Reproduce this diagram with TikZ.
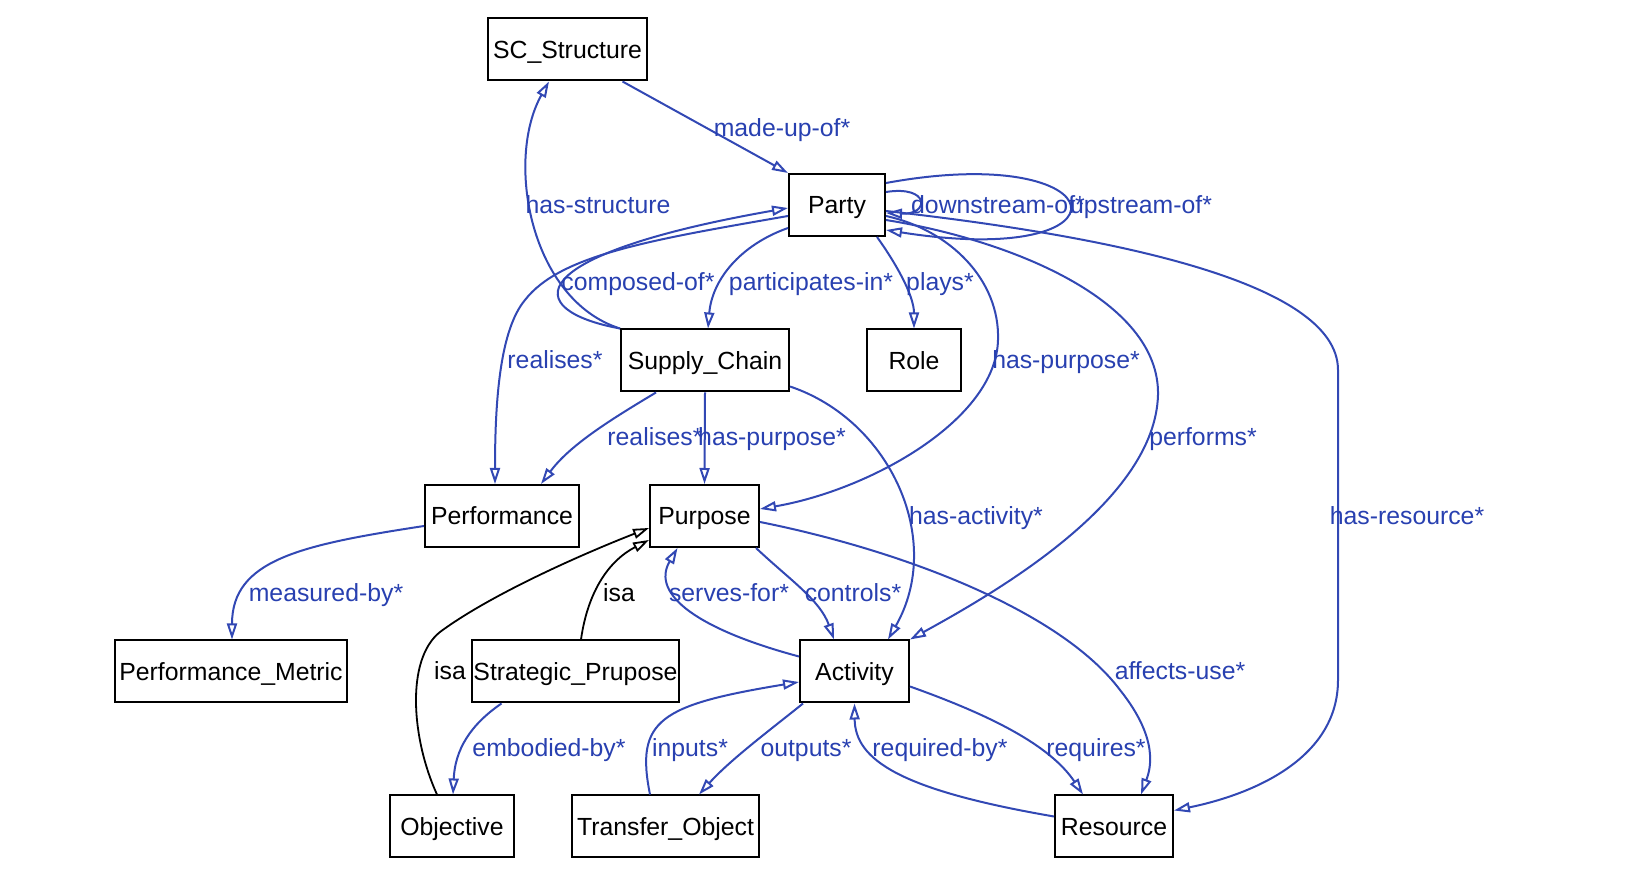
\documentclass[tikz,border=0pt]{standalone}
\usepackage{fontspec}
\setmainfont{Liberation Sans}
\usepackage{tikz}
\usetikzlibrary{positioning,calc}
\usetikzlibrary{arrows.meta}
\definecolor{RelBlue}{RGB}{50,72,180}
\definecolor{LabBlue}{RGB}{40,64,176}
\tikzset{
  cls/.style={rectangle,draw=black,fill=white,line width=1pt,inner sep=0pt,
    minimum height=31pt,text height=9pt,text depth=0pt,font=\fontsize{12.4}{15}\selectfont},
  rel/.style={draw=RelBlue,line width=1pt,-{Triangle[open,length=8pt,width=5pt]}},
  isarel/.style={draw=black,line width=0.9pt,-{Triangle[open,length=8pt,width=5pt]}},
}
\tikzset{rlab/.style={text=LabBlue,inner sep=0pt,text height=9pt,text depth=0pt,font=\fontsize{12.4}{15}\selectfont}, isalab/.style={rlab,text=black}}

\begin{document}
\begin{tikzpicture}[x=0.5pt,y=-0.5pt]
\useasboundingbox (0,0) rectangle (1628,886);
\node[cls,minimum width=79.5pt] (scs) at (567.5,49.5) {SC\_Structure};
\node[cls,minimum width=48pt] (party) at (837,205) {Party};
\node[cls,minimum width=84pt] (supply) at (705,360.5) {Supply\_Chain};
\node[cls,minimum width=47pt] (role) at (914,360.5) {Role};
\node[cls,minimum width=77pt] (perf) at (502,516) {Performance};
\node[cls,minimum width=54.5pt] (purpose) at (704.5,516) {Purpose};
\node[cls,minimum width=116pt] (metric) at (231,671.5) {Performance\_Metric};
\node[cls,minimum width=103.5pt] (strat) at (575.5,671.5) {Strategic\_Prupose};
\node[cls,minimum width=54.5pt] (activity) at (854.5,671.5) {Activity};
\node[cls,minimum width=62pt] (objective) at (452,826.5) {Objective};
\node[cls,minimum width=93.5pt] (transfer) at (665.5,826.5) {Transfer\_Object};
\node[cls,minimum width=59pt] (resource) at (1114,826.5) {Resource};

\draw[rel] ($(scs.south)+(55,0)$) -- (party.north west);
\draw[rel] (supply.north west) .. controls (530,300) and (505,160) .. ($(scs.south)+(-18.5,0)$);
\draw[rel] (supply.north west) .. controls (520,310) and (520,255) .. ($(party.west)+(0,3)$);
\draw[rel] ($(party.west)+(0,11)$) .. controls (650,240) and (560,255) .. (525,300) .. controls (500,330) and (495,400) .. ($(perf.north)+(-7,0)$);
\draw[rel] ($(party.west)+(0,23)$) .. controls (740,245) and (712,280) .. ($(supply.north)+(3,0)$);
\draw[rel] ($(party.south)+(40,0)$) .. controls (895,262) and (914,295) .. (role.north);
\draw[rel] ($(party.east)+(0,11)$) .. controls (950,230) and (1000,280) .. (998,340) .. controls (996,420) and (870,490) .. ($(purpose.east)+(0,-7)$);
\draw[rel] ($(party.east)+(0,15)$) .. controls (1010,240) and (1160,300) .. (1158,395) .. controls (1155,500) and (1000,590) .. (activity.north east);
\draw[rel] ($(party.east)+(0,6)$) .. controls (1100,235) and (1338,280) .. (1338,370) -- (1338,680) .. controls (1338,760) and (1250,795) .. ($(resource.east)+(0,-16)$);
\draw[rel] ($(party.east)+(0,-13)$) .. controls (930,185) and (930,215) .. ($(party.east)+(0,8)$);
\draw[rel] ($(party.east)+(0,-22)$) .. controls (1120,140) and (1140,270) .. ($(party.east)+(0,25)$);
\draw[rel] ($(supply.south)+(-49,0)$) .. controls (610,420) and (570,445) .. ($(perf.north)+(39,0)$);
\draw[rel] (supply.south) -- (purpose.north);
\draw[rel] ($(supply.south east)+(0,-6)$) .. controls (890,420) and (945,540) .. ($(activity.north)+(33.5,0)$);
\draw[rel] ($(perf.west)+(0,10)$) .. controls (300,545) and (232,560) .. ($(metric.north)+(1,0)$);
\draw[isarel] ($(strat.north)+(5.5,0)$) .. controls (588,590) and (610,560) .. ($(purpose.south west)+(0,-8)$);
\draw[isarel] ($(objective.north)+(-15,0)$) .. controls (412,740) and (405,660) .. (440,632) .. controls (490,595) and (580,555) .. ($(purpose.west)+(0,12)$);
\draw[rel] ($(strat.south)+(-74,0)$) .. controls (470,725) and (455,750) .. ($(objective.north)+(1,0)$);
\draw[rel] ($(activity.west)+(0,-15)$) .. controls (700,630) and (650,595) .. ($(purpose.south)+(-27,0)$);
\draw[rel] ($(purpose.south east)+(-4,0)$) .. controls (790,580) and (820,600) .. ($(activity.north)+(-20.5,0)$);
\draw[rel] ($(purpose.east)+(0,6)$) .. controls (900,550) and (1060,610) .. (1120,690) .. controls (1160,740) and (1150,770) .. ($(resource.north)+(27,0)$);
\draw[rel] ($(transfer.north)+(-15.5,0)$) .. controls (635,720) and (660,705) .. ($(activity.west)+(0,10.5)$);
\draw[rel] ($(activity.south west)+(4,0)$) .. controls (770,730) and (730,760) .. ($(transfer.north)+(33.5,0)$);
\draw[rel] ($(resource.west)+(0,-10)$) .. controls (900,790) and (855,760) .. (activity.south);
\draw[rel] ($(activity.east)+(0,15)$) .. controls (990,715) and (1050,745) .. ($(resource.north)+(-31,0)$);

\node[rlab] (lmadeup) at (782,128) {made-up-of*};
\node[rlab] (lstruct) at (598,205) {has-structure};
\node[rlab] (ldown) at (998,205) {downstream-of*};
\node[rlab] (lup) at (1141,205) {upstream-of*};
\node[rlab] (lcomposed) at (638,282) {composed-of*};
\node[rlab] (lpart) at (811,282) {participates-in*};
\node[rlab] (lplays) at (940,282) {plays*};
\node[rlab] (lreal) at (555,360) {realises*};
\node[rlab] (lpurp) at (1066,360) {has-purpose*};
\node[rlab] (lrealsc) at (655,437) {realises*};
\node[rlab] (lpurpsc) at (772,437) {has-purpose*};
\node[rlab] (lperf) at (1203,437) {performs*};
\node[rlab] (lact) at (976,516) {has-activity*};
\node[rlab] (lres) at (1407,516) {has-resource*};
\node[rlab] (lmeas) at (326,593) {measured-by*};
\node[isalab] (lisa) at (619,593) {isa};
\node[rlab] (lserves) at (729,593) {serves-for*};
\node[rlab] (lcontrols) at (853,593) {controls*};
\node[isalab] (lisaobj) at (450,671) {isa};
\node[rlab] (laffects) at (1180,671) {affects-use*};
\node[rlab] (lembod) at (549,748) {embodied-by*};
\node[rlab] (linputs) at (690,748) {inputs*};
\node[rlab] (loutputs) at (806,748) {outputs*};
\node[rlab] (lreqby) at (940,748) {required-by*};
\node[rlab] (lreq) at (1096,748) {requires*};
\end{tikzpicture}
\end{document}
